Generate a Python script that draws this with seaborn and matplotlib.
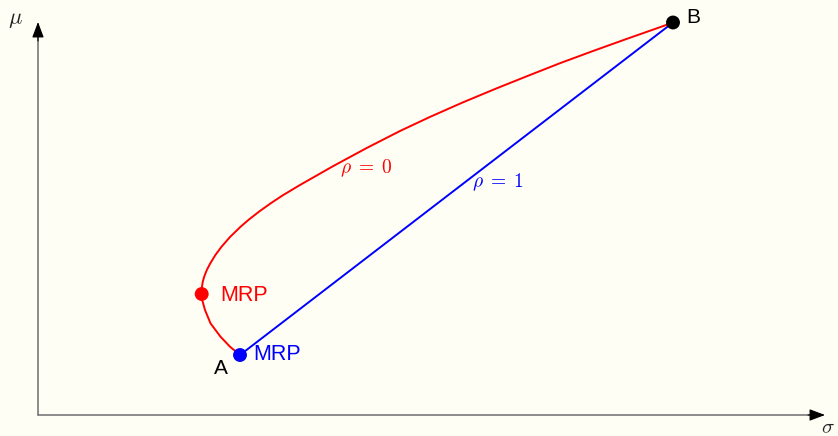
import matplotlib
matplotlib.use("Agg")
import matplotlib.pyplot as plt
import seaborn as sns
import pandas as pd

# Two-asset portfolio frontier in the (sigma, mu) plane
# Assets
asset_names = ["A", "B"]
asset_sigma = [2.02, 6.35]
asset_mu = [0.60, 3.925]

# Frontier for correlation rho = 0 (from A to B)
rho0_sigma = [2.02, 1.92, 1.825, 1.725, 1.67, 1.642, 1.637, 1.638, 1.647,
              1.662, 1.688, 1.723, 1.774, 1.833, 1.92, 2.026, 2.112, 2.215,
              2.327, 2.448, 2.62, 2.95, 3.287, 3.62, 3.92, 4.253, 4.587, 4.92,
              5.22, 5.553, 5.887, 6.22, 6.35]
rho0_mu = [0.60, 0.683, 0.783, 0.917, 1.05, 1.15, 1.21, 1.27, 1.33,
           1.383, 1.45, 1.517, 1.60, 1.68, 1.78, 1.883, 1.957, 2.037,
           2.117, 2.197, 2.30, 2.488, 2.67, 2.84, 2.981, 3.128, 3.267, 3.40,
           3.518, 3.641, 3.761, 3.878, 3.925]

# Minimum-risk portfolios
mrp_rho0 = (1.637, 1.21)
mrp_rho1 = (2.02, 0.60)

BG = "#fefef5"
sns.set_theme(style="white", rc={"figure.facecolor": BG, "axes.facecolor": BG})
plt.rcParams["font.family"] = ["Liberation Sans", "DejaVu Sans"]
plt.rcParams["mathtext.fontset"] = "cm"

fig = plt.figure(figsize=(8.38, 4.36), dpi=100)
ax = fig.add_axes([0, 0, 1, 1])
ax.set_xlim(-0.38, 8.00)
ax.set_ylim(-0.21, 4.15)
ax.axis("off")

# Coordinate axes with arrow heads
axis_col = "#6e6e6e"
ax.plot([0, 7.78], [0, 0], color=axis_col, lw=1.1, zorder=1)
ax.plot([0, 0], [0, 3.80], color=axis_col, lw=1.1, zorder=1)
ax.annotate("", xy=(7.87, 0), xytext=(7.70, 0),
            arrowprops=dict(arrowstyle="-|>,head_length=0.8,head_width=0.3",
                            color="black", lw=0.8, shrinkA=0, shrinkB=0))
ax.annotate("", xy=(0, 3.93), xytext=(0, 3.74),
            arrowprops=dict(arrowstyle="-|>,head_length=0.8,head_width=0.3",
                            color="black", lw=0.8, shrinkA=0, shrinkB=0))
ax.text(-0.23, 3.96, r"$\mu$", fontsize=16, ha="center", va="center")
ax.text(7.90, -0.13, r"$\sigma$", fontsize=15, ha="center", va="center")

# rho = 0 frontier
df0 = pd.DataFrame({"sigma": rho0_sigma, "mu": rho0_mu})
sns.lineplot(data=df0, x="sigma", y="mu", sort=False, estimator=None,
             color="#ff0000", lw=1.4, ax=ax, zorder=2)

# rho = 1 frontier: straight line between the two assets
df1 = pd.DataFrame({"sigma": asset_sigma, "mu": asset_mu})
sns.lineplot(data=df1, x="sigma", y="mu", sort=False, estimator=None,
             color="#0000ff", lw=1.4, ax=ax, zorder=2)

# Points
sns.scatterplot(x=[mrp_rho0[0]], y=[mrp_rho0[1]], color="#ff0000", s=100,
                edgecolor="none", ax=ax, zorder=3)
sns.scatterplot(x=[mrp_rho1[0]], y=[mrp_rho1[1]], color="#0000ff", s=100,
                edgecolor="none", ax=ax, zorder=3)
sns.scatterplot(x=[asset_sigma[1]], y=[asset_mu[1]], color="black", s=100,
                edgecolor="none", ax=ax, zorder=3)

# Labels
ax.text(mrp_rho0[0] + 0.19, mrp_rho0[1] - 0.01, "MRP", color="#ff0000",
        fontsize=15.5, ha="left", va="center")
ax.text(mrp_rho1[0] + 0.13, mrp_rho1[1] + 0.005, "MRP", color="#0000ff",
        fontsize=15.5, ha="left", va="center")
ax.text(asset_sigma[0] - 0.19, asset_mu[0] - 0.13, asset_names[0],
        color="black", fontsize=15, ha="center", va="center")
ax.text(asset_sigma[1] + 0.20, asset_mu[1] + 0.05, asset_names[1],
        color="black", fontsize=15, ha="center", va="center")
ax.text(3.28, 2.47, r"$\rho\;=\;0$", color="#ff0000", fontsize=14,
        ha="center", va="center")
ax.text(4.60, 2.33, r"$\rho\;=\;1$", color="#0000ff", fontsize=14,
        ha="center", va="center")

fig.savefig("out.png", dpi=100, facecolor=BG)
